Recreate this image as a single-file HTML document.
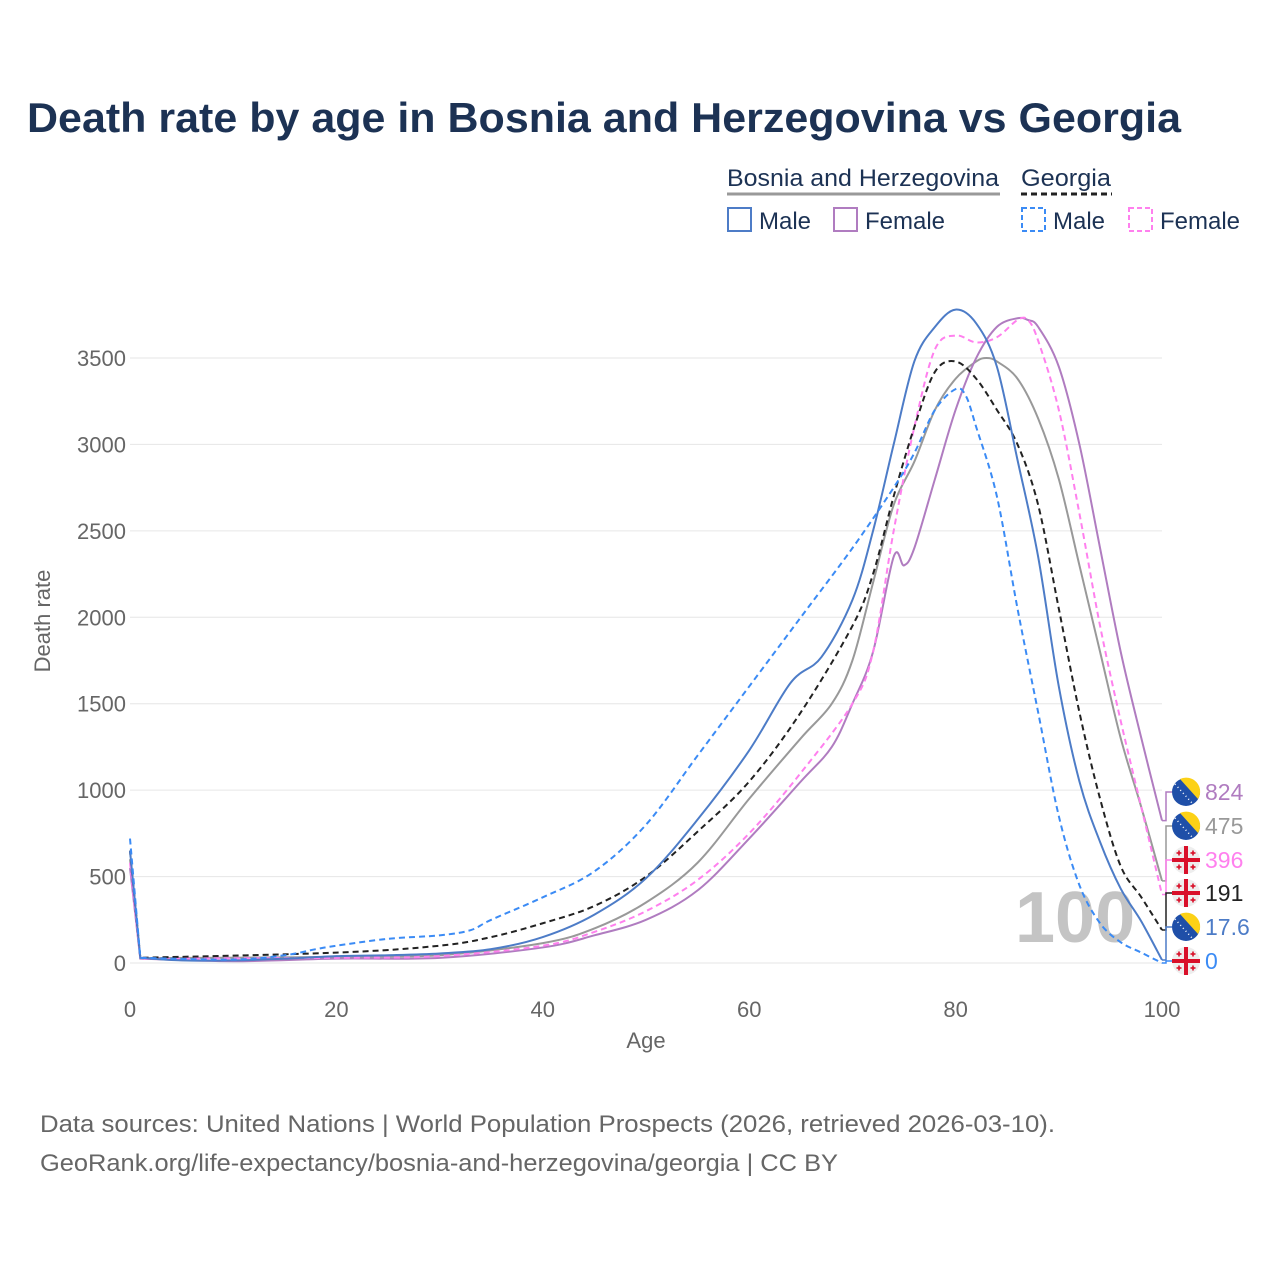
<!DOCTYPE html>
<html><head><meta charset="utf-8"><style>
body{margin:0;background:#fff;font-family:"Liberation Sans",sans-serif}
svg text{font-family:"Liberation Sans",sans-serif}
</style></head><body>
<svg id="c" width="1280" height="1280" xmlns="http://www.w3.org/2000/svg">
<text x="27" y="132" font-size="42" font-weight="bold" fill="#1c3254" textLength="1154" lengthAdjust="spacingAndGlyphs">Death rate by age in Bosnia and Herzegovina vs Georgia</text>
<g>
<text x="727" y="186" font-size="24" fill="#1c3254" textLength="272" lengthAdjust="spacingAndGlyphs">Bosnia and Herzegovina</text>
<line x1="727" y1="194" x2="1000" y2="194" stroke="#999" stroke-width="3"/>
<text x="1021" y="186" font-size="24" fill="#1c3254" textLength="90" lengthAdjust="spacingAndGlyphs">Georgia</text>
<line x1="1021" y1="194" x2="1112" y2="194" stroke="#222" stroke-width="3" stroke-dasharray="6,4"/>
<rect x="728" y="208" width="23" height="23" fill="none" stroke="#4d7cc7" stroke-width="2"/>
<text x="759" y="229" font-size="24" fill="#1c3254">Male</text>
<rect x="834" y="208" width="23" height="23" fill="none" stroke="#b07cc0" stroke-width="2"/>
<text x="865" y="229" font-size="24" fill="#1c3254">Female</text>
<rect x="1022" y="208" width="23" height="23" fill="none" stroke="#3b8bf5" stroke-width="2" stroke-dasharray="5,3"/>
<text x="1053" y="229" font-size="24" fill="#1c3254">Male</text>
<rect x="1129" y="208" width="23" height="23" fill="none" stroke="#ff80ee" stroke-width="2" stroke-dasharray="5,3"/>
<text x="1160" y="229" font-size="24" fill="#1c3254">Female</text>
</g>
<g id="grid"></g>
<text x="1015" y="942" font-size="72" font-weight="bold" fill="#c4c4c4">100</text>
<g id="series"></g>
<g id="labels"></g>
<text x="646" y="1048" font-size="22" fill="#666" text-anchor="middle">Age</text>
<text transform="translate(50,621) rotate(-90)" font-size="22" fill="#666" text-anchor="middle">Death rate</text>
<text x="40" y="1132" font-size="24" fill="#666" textLength="1015" lengthAdjust="spacingAndGlyphs">Data sources: United Nations | World Population Prospects (2026, retrieved 2026-03-10).</text>
<text x="40" y="1171" font-size="24" fill="#666" textLength="798" lengthAdjust="spacingAndGlyphs">GeoRank.org/life-expectancy/bosnia-and-herzegovina/georgia | CC BY</text>
</svg>
<script>
const yTicks=[0,500,1000,1500,2000,2500,3000,3500];
const xTicks=[0,20,40,60,80,100];
const bihMaleAges=[0,1,5,10,15,20,25,30,35,40,45,50,55,60,64,67,70,72,74,76,78,80,82,84,86,88,90,92,94,96,98,100];
const bihMale=[650,30,15,15,25,40,45,55,80,150,280,490,830,1230,1620,1770,2100,2500,3000,3480,3680,3780,3700,3450,2910,2350,1600,1050,700,430,240,17.6];
const bihFemaleAges=[0,1,10,20,30,40,45,50,55,60,65,68,70,72,74,75,76,78,80,82,84,86,87,88,90,92,94,96,98,100];
const bihFemale=[550,25,10,25,30,90,160,250,420,720,1050,1250,1500,1800,2350,2300,2400,2800,3200,3500,3680,3730,3720,3680,3450,3000,2400,1800,1300,824];
const bihTotalAges=[0,1,20,30,40,45,50,55,60,65,68,70,72,74,76,78,80,82,83,84,86,88,90,92,94,96,98,100];
const bihTotal=[600,28,35,45,115,200,350,580,950,1300,1500,1750,2200,2650,2900,3200,3380,3480,3500,3480,3380,3150,2800,2300,1800,1300,900,475];
const geoMaleAges=[0,1,10,15,18,20,25,30,33,35,40,45,50,55,60,65,70,74,76,78,80,81,82,84,86,88,90,92,94,96,98,100];
const geoMale=[720,30,20,45,80,100,140,160,190,250,380,530,800,1200,1600,2000,2400,2750,2950,3200,3320,3280,3100,2700,2050,1450,850,450,230,120,60,0];
const geoTotalAges=[0,1,20,30,35,40,45,50,55,60,65,70,72,74,76,78,80,82,84,86,88,90,92,94,96,98,100];
const geoTotal=[650,30,60,100,150,230,330,500,760,1050,1450,1950,2250,2700,3100,3420,3480,3380,3200,3000,2650,2050,1450,950,560,380,191];
const geoFemaleAges=[0,1,20,30,40,45,50,55,60,65,70,72,74,76,78,80,82,84,86,87,88,90,92,94,96,98,100];
const geoFemale=[580,25,30,40,100,180,300,480,750,1100,1500,1800,2500,3100,3550,3630,3590,3620,3720,3720,3600,3200,2600,1950,1400,900,396];
const X=a=>130+a*10.32, Y=v=>963-v*0.17286;
const NS="http://www.w3.org/2000/svg";
function mk(t,at,p){const e=document.createElementNS(NS,t);for(const k in at)e.setAttribute(k,at[k]);p.appendChild(e);return e;}
const g=document.getElementById('grid');
yTicks.forEach(v=>{
 const l=mk('line',{x1:130,x2:1162,y1:Y(v),y2:Y(v),stroke:'#e6e6e6','stroke-width':1},g);
 
 
 const t=mk('text',{x:126,y:Y(v)+8,'font-size':22,fill:'#666','text-anchor':'end'},g);t.textContent=v;
 
 
});
xTicks.forEach(a=>{
 const t=mk('text',{x:X(a),y:1017,'font-size':22,fill:'#666','text-anchor':'middle'},g);t.textContent=a;
 
 
});
function path(ages,vals){
 const p=ages.map((a,i)=>[X(a),Y(vals[i])]);
 let d='M'+p[0][0]+','+p[0][1]+' L'+p[1][0]+','+p[1][1];
 for(let i=1;i<p.length-1;i++){
  const p0=p[Math.max(0,i-1)],p1=p[i],p2=p[i+1],p3=p[Math.min(p.length-1,i+2)];
  const c1=[p1[0]+(p2[0]-(i==1?p1[0]:p0[0]))/6,p1[1]+(p2[1]-(i==1?p1[1]:p0[1]))/6];
  const c2=[p2[0]-(p3[0]-p1[0])/6,p2[1]-(p3[1]-p1[1])/6];
  d+=` C${c1[0]},${c1[1]} ${c2[0]},${c2[1]} ${p2[0]},${p2[1]}`;
 }
 return d;
}
const s=document.getElementById('series');
const defs=[
 [bihTotalAges,bihTotal,'#999',null,'bih-total-line'],
 [bihFemaleAges,bihFemale,'#b07cc0',null,'bih-female-line'],
 [geoFemaleAges,geoFemale,'#ff80ee','6,4','georgia-female-line'],
 [geoTotalAges,geoTotal,'#222','6,4','georgia-total-line'],
 [bihMaleAges,bihMale,'#4d7cc7',null,'bih-male-line'],
 [geoMaleAges,geoMale,'#3b8bf5','6,4','georgia-male-line']];
defs.forEach(d=>{
 const at={d:path(d[0],d[1]),fill:'none',stroke:d[2],'stroke-width':2};
 if(d[3])at['stroke-dasharray']=d[3];
 const e=mk('path',at,s);
 
 
});
const L=document.getElementById('labels');
const lab=[
 [bihFemale,'824','#b07cc0','bih',792],
 [bihTotal,'475','#999','bih',826],
 [geoFemale,'396','#ff80ee','geo',860],
 [geoTotal,'191','#222','geo',893],
 [bihMale,'17.6','#4d7cc7','bih',927],
 [geoMale,'0','#3b8bf5','geo',961]];
lab.forEach(l=>{
 const v=l[0][l[0].length-1];
 mk('path',{d:`M1162,${Y(v)} L1166,${Y(v)} L1166,${l[4]} L1172,${l[4]}`,fill:'none',stroke:l[2],'stroke-width':1.5},L);
 const cx=1186,cy=l[4];
 if(l[3]=='bih'){
  mk('circle',{cx,cy,r:14,fill:'#1f4fa8'},L);
  mk('path',{d:`M${cx-6},${cy-13} A14,14 0 0 1 ${cx+12},${cy+7} Z`,fill:'#fcd116'},L);
  mk('line',{x1:cx-11,y1:cy-8,x2:cx+6,y2:cy+11,stroke:'#fff','stroke-width':1.5,'stroke-dasharray':'1,3'},L);
 } else {
  mk('circle',{cx,cy,r:14,fill:'#eee'},L);
  mk('rect',{x:cx-2,y:cy-14,width:4,height:28,fill:'#d9102a'},L);
  mk('rect',{x:cx-14,y:cy-2,width:28,height:4,fill:'#d9102a'},L);
  [[-7,-7],[7,-7],[-7,7],[7,7]].forEach(o=>{mk('rect',{x:cx+o[0]-2.5,y:cy+o[1]-0.8,width:5,height:1.6,fill:'#d9102a'},L);mk('rect',{x:cx+o[0]-0.8,y:cy+o[1]-2.5,width:1.6,height:5,fill:'#d9102a'},L);});
 }
 const t=mk('text',{x:1205,y:cy+8,'font-size':23,fill:l[2]},L);t.textContent=l[1];
 
 
});
</script>
</body></html>
